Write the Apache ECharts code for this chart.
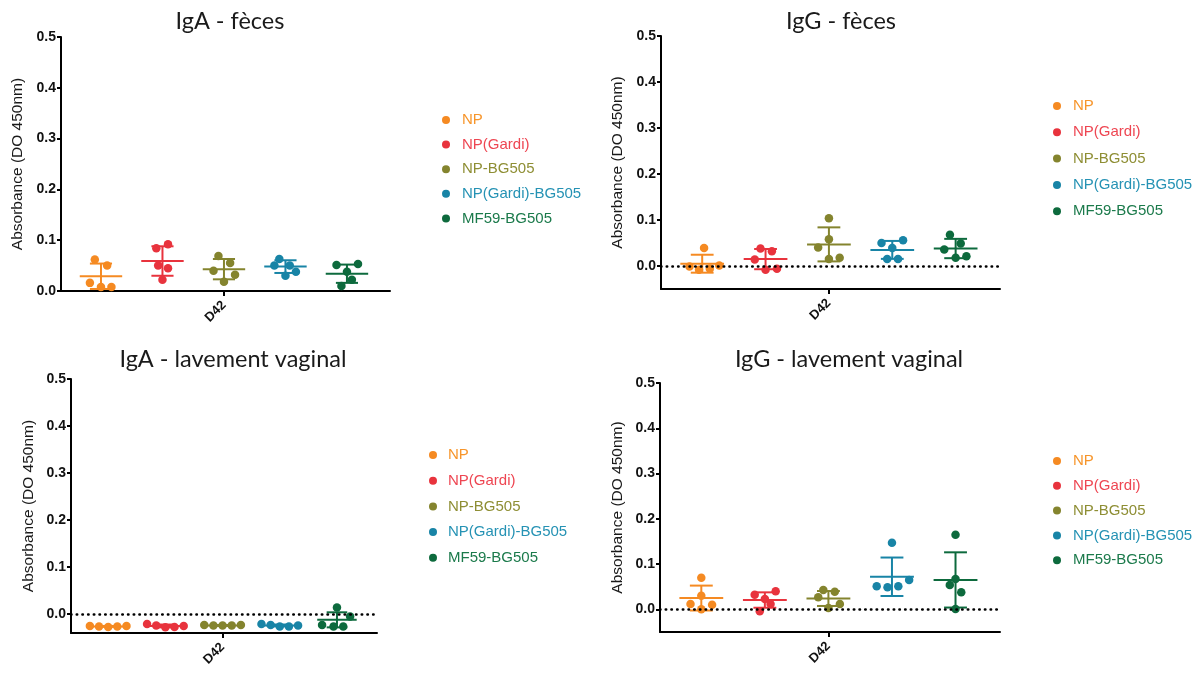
<!DOCTYPE html>
<html>
<head>
<meta charset="utf-8">
<script src="https://cdn.jsdelivr.net/npm/echarts@6/dist/echarts.min.js"></script>
<style>
  html, body { margin: 0; padding: 0; background: #fff; }
  #main { width: 1199px; height: 673px; }
</style>
</head>
<body>
<div id="main"></div>
<script>
// groups (legend order)
var groupNames = ['NP', 'NP(Gardi)', 'NP-BG505', 'NP(Gardi)-BG505', 'MF59-BG505'];
var xTickLabel = 'D42';
var yTicks = [0, 0.1, 0.2, 0.3, 0.4, 0.5];

// IgA - feces
var igaFecesValues = [
  [0.062, 0.050, 0.016, 0.008, 0.008],
  [0.084, 0.092, 0.050, 0.045, 0.022],
  [0.069, 0.055, 0.040, 0.032, 0.018],
  [0.063, 0.050, 0.050, 0.038, 0.030],
  [0.051, 0.053, 0.038, 0.022, 0.010]
];
var igaFecesJitter = [
  [-0.1, 0.1, -0.18, 0, 0.17],
  [-0.1, 0.09, -0.07, 0.09, 0],
  [-0.09, 0.1, -0.17, 0.18, 0],
  [-0.1, -0.18, 0.07, 0.17, 0],
  [-0.17, 0.18, 0, 0.08, -0.09]
];
var igaFecesMean = [0.029, 0.059, 0.043, 0.048, 0.034];
var igaFecesSd = [0.025, 0.029, 0.020, 0.0125, 0.018];

// IgG - feces
var iggFecesValues = [
  [0.039, -0.001, 0.001, -0.008, -0.006],
  [0.038, 0.032, 0.014, -0.008, -0.006],
  [0.104, 0.058, 0.040, 0.015, 0.018],
  [0.050, 0.056, 0.039, 0.015, 0.015],
  [0.068, 0.049, 0.036, 0.018, 0.021]
];
var iggFecesJitter = [
  [0.03, -0.2, 0.27, -0.05, 0.12],
  [-0.08, 0.1, -0.17, 0, 0.18],
  [0, 0, -0.17, 0, 0.17],
  [-0.17, 0.17, 0, -0.08, 0.09],
  [-0.09, 0.08, -0.18, 0, 0.17]
];
var iggFecesMean = [0.005, 0.015, 0.047, 0.035, 0.038];
var iggFecesSd = [0.0195, 0.022, 0.037, 0.0195, 0.021];

// IgA - lavement vaginal
var igaVagValues = [
  [-0.025, -0.026, -0.027, -0.026, -0.025],
  [-0.021, -0.024, -0.028, -0.027, -0.025],
  [-0.023, -0.024, -0.024, -0.024, -0.023],
  [-0.021, -0.023, -0.026, -0.026, -0.024],
  [0.014, -0.005, -0.023, -0.026, -0.026]
];
var igaVagJitter = [
  [-0.32, -0.16, 0, 0.16, 0.32],
  [-0.32, -0.16, 0, 0.16, 0.32],
  [-0.32, -0.16, 0, 0.16, 0.32],
  [-0.32, -0.16, 0, 0.16, 0.32],
  [0, 0.23, -0.26, -0.06, 0.11]
];
var igaVagMean = [-0.026, -0.025, -0.024, -0.024, -0.012];
var igaVagSd = [0.001, 0.003, 0.001, 0.002, 0.016];

// IgG - lavement vaginal
var iggVagValues = [
  [0.070, 0.030, 0.012, 0.010, 0.0],
  [0.0325, 0.040, 0.023, 0.012, -0.004],
  [0.043, 0.039, 0.0265, 0.012, 0.003],
  [0.147, 0.051, 0.049, 0.051, 0.065],
  [0.1646, 0.067, 0.054, 0.0376, 0.001]
];
var iggVagJitter = [
  [0, 0, -0.17, 0.17, 0],
  [-0.16, 0.17, 0, 0.09, -0.08],
  [-0.08, 0.1, -0.16, 0.18, 0],
  [0, -0.24, -0.07, 0.1, 0.27],
  [0, 0, -0.09, 0.09, 0]
];
var iggVagMean = [0.025, 0.0206, 0.024, 0.072, 0.065];
var iggVagSd = [0.0275, 0.017, 0.0165, 0.0425, 0.061];

var seriesColors = ['#F58A22', '#E8333D', '#84842E', '#1884A6', '#0D6A3D'];
var legendTextColors = ['#F7952A', '#EE4652', '#8E8E34', '#2592B4', '#1B7A4B'];

var panels = [
  { title: 'IgA - fèces', values: igaFecesValues, jitter: igaFecesJitter, mean: igaFecesMean, sd: igaFecesSd, yMin: 0, zero: false },
  { title: 'IgG - fèces', values: iggFecesValues, jitter: iggFecesJitter, mean: iggFecesMean, sd: iggFecesSd, yMin: -0.05, zero: true },
  { title: 'IgA - lavement vaginal', values: igaVagValues, jitter: igaVagJitter, mean: igaVagMean, sd: igaVagSd, yMin: -0.04, zero: true },
  { title: 'IgG - lavement vaginal', values: iggVagValues, jitter: iggVagJitter, mean: iggVagMean, sd: iggVagSd, yMin: -0.05, zero: true }
];

// layout per panel
var gridPos = [
  { left: 61, top: 37, width: 329, height: 254 },
  { left: 661, top: 36, width: 339, height: 253 },
  { left: 71, top: 379, width: 306, height: 254 },
  { left: 660, top: 383, width: 340, height: 249 }
];
var titlePos = [
  { x: 230, y: 7 }, { x: 841, y: 7 }, { x: 233, y: 345 }, { x: 849, y: 345 }
];
var legendPos = [
  { left: 437, top: 107, gap: 8.6, pad: 7 },
  { left: 1048, top: 93, gap: 10.3, pad: 7 },
  { left: 424, top: 442, gap: 9.7, pad: 6 },
  { left: 1048, top: 448, gap: 8.8, pad: 7 }
];
var nameGaps = [35, 35, 34.5, 34];

function renderMeanSd(params, api) {
  var x = api.value(0), m = api.value(1), s = api.value(2);
  var mid = api.coord([x, m]);
  var hi = api.coord([x, m + s]);
  var lo = api.coord([x, m - s]);
  var half = api.size([0.345, 0])[0];
  var cap = api.size([0.18, 0])[0];
  var style = { stroke: seriesColors[params.dataIndex], lineWidth: 2 };
  return {
    type: 'group',
    children: [
      { type: 'line', shape: { x1: mid[0] - half, y1: mid[1], x2: mid[0] + half, y2: mid[1] }, style: style },
      { type: 'line', shape: { x1: mid[0], y1: hi[1], x2: mid[0], y2: lo[1] }, style: style },
      { type: 'line', shape: { x1: mid[0] - cap, y1: hi[1], x2: mid[0] + cap, y2: hi[1] }, style: style },
      { type: 'line', shape: { x1: mid[0] - cap, y1: lo[1], x2: mid[0] + cap, y2: lo[1] }, style: style }
    ]
  };
}

var titles = [], grids = [], xAxes = [], yAxes = [], legends = [], series = [];

panels.forEach(function (p, pi) {
  titles.push({
    text: p.title, left: titlePos[pi].x, top: titlePos[pi].y, textAlign: 'center', padding: 0,
    textStyle: { fontFamily: 'Lato', fontSize: 23.5, fontWeight: 'normal', color: '#1a1a1a', lineHeight: 28 }
  });
  grids.push(gridPos[pi]);
  xAxes.push({
    gridIndex: pi, type: 'value', min: 0.35, max: 5.7,
    axisLine: { onZero: false, lineStyle: { color: '#000', width: 2 } },
    axisTick: { customValues: [3], length: 5, lineStyle: { color: '#000', width: 2 } },
    axisLabel: {
      customValues: [3], formatter: function () { return xTickLabel; }, rotate: 45, margin: 12,
      fontFamily: 'Liberation Sans', fontSize: 13, fontWeight: 'bold', color: '#111'
    },
    splitLine: { show: false }
  });
  yAxes.push({
    gridIndex: pi, type: 'value', min: p.yMin, max: 0.5,
    name: 'Absorbance (DO 450nm)', nameLocation: 'middle', nameGap: nameGaps[pi],
    nameTextStyle: { fontFamily: 'Liberation Sans', fontSize: 15.5, color: '#1a1a1a' },
    axisLine: { show: true, onZero: false, lineStyle: { color: '#000', width: 2 } },
    axisTick: { show: true, customValues: yTicks, length: 4, lineStyle: { color: '#000', width: 2 } },
    axisLabel: {
      customValues: yTicks, formatter: function (v) { return v.toFixed(1); }, margin: 5,
      fontFamily: 'Liberation Sans', fontSize: 14, fontWeight: 'bold', color: '#111'
    },
    splitLine: { show: false }
  });
  legends.push({
    orient: 'vertical', left: legendPos[pi].left, top: legendPos[pi].top, itemGap: legendPos[pi].gap,
    icon: 'circle', itemWidth: 8, itemHeight: 8, selectedMode: false,
    textStyle: { fontFamily: 'Liberation Sans', fontSize: 15, lineHeight: 16, padding: [0, 0, 0, legendPos[pi].pad] },
    data: groupNames.map(function (n, i) { return { name: n, textStyle: { color: legendTextColors[i] } }; })
  });

  series.push({
    type: 'custom', name: 'meanSd' + pi, xAxisIndex: pi, yAxisIndex: pi,
    renderItem: renderMeanSd, encode: { x: 0, y: 1 }, z: 3, silent: true,
    data: p.mean.map(function (m, g) { return [g + 1, m, p.sd[g]]; }),
    markLine: p.zero ? {
      silent: true, symbol: 'none', label: { show: false },
      lineStyle: { color: '#000', width: 2.5, type: [0.5, 5.2], cap: 'round' },
      data: [{ yAxis: 0 }]
    } : undefined
  });
  groupNames.forEach(function (n, g) {
    series.push({
      type: 'scatter', name: n, xAxisIndex: pi, yAxisIndex: pi, symbol: 'circle', symbolSize: 8.5, z: 4,
      itemStyle: { color: seriesColors[g], opacity: 1 },
      data: p.values[g].map(function (v, k) { return [g + 1 + p.jitter[g][k], v]; })
    });
  });
});

var myChart = echarts.init(document.getElementById('main'));
myChart.setOption({
  backgroundColor: '#fff',
  animation: false,
  title: titles,
  grid: grids,
  xAxis: xAxes,
  yAxis: yAxes,
  legend: legends,
  series: series
});
</script>
</body>
</html>
